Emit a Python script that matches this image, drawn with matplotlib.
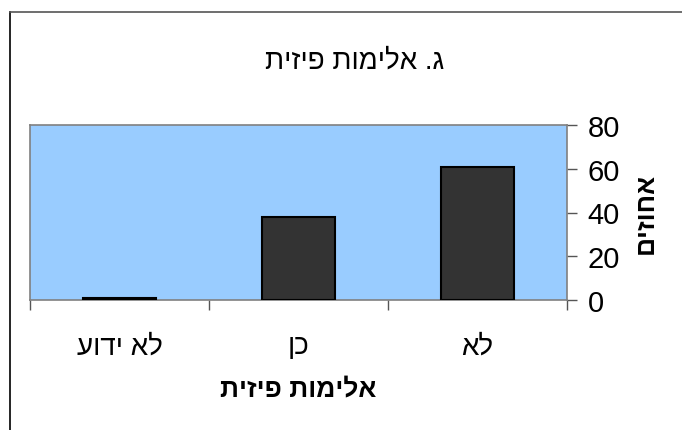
import matplotlib
matplotlib.use("Agg")
import matplotlib.pyplot as plt
from matplotlib.lines import Line2D

plt.rcParams["font.family"] = ["Liberation Sans", "DejaVu Sans"]

# data (logical Hebrew order, left-to-right on the chart)
categories = ["לא ידוע", "כן", "לא"]
values = [1, 38, 61]
y_ticks = [0, 20, 40, 60, 80]
title = "ג. אלימות פיזית"
x_label = "אלימות פיזית"
y_label = "אחוזים"


def rtl(text: str) -> str:
    # matplotlib has no bidi support, so lay Hebrew out visually
    return text[::-1]


W, H = 682, 431
fig = plt.figure(figsize=(W / 100, H / 100), dpi=100)

# outer chart border (only left and top edges fall inside the image)
fig.add_artist(Line2D([10 / W, 10 / W], [0, 1 - 13 / H], transform=fig.transFigure,
                      color="black", linewidth=1.2))
fig.add_artist(Line2D([10 / W, 1], [1 - 13 / H, 1 - 13 / H], transform=fig.transFigure,
                      color="#555555", linewidth=1.2))

left, right, top, bottom = 30, 567, 126, 301
ax = fig.add_axes([left / W, 1 - bottom / H, (right - left) / W, (bottom - top) / H])
ax.set_facecolor("#99CCFF")

x = range(len(categories))
ax.bar(x, values, width=0.41, color="#333333", edgecolor="black", linewidth=1.5, zorder=3)

ax.set_xlim(-0.5, len(categories) - 0.5)
ax.set_ylim(0, 80)

for side in ["left", "right", "top", "bottom"]:
    ax.spines[side].set_color("#808080")
    ax.spines[side].set_linewidth(1.2)

ax.yaxis.tick_right()
ax.yaxis.set_label_position("right")
ax.set_yticks(y_ticks)
ax.tick_params(axis="y", length=7, width=1, color="#555555", pad=8, labelsize=21)

ax.set_xticks(list(x))
ax.set_xticklabels([rtl(c) for c in categories])
ax.set_xticks([i - 0.5 for i in range(len(categories) + 1)], minor=True)
ax.tick_params(axis="x", which="major", length=0, pad=24, labelsize=20)
ax.tick_params(axis="x", which="minor", length=7, width=1, color="#555555")

ax.set_ylabel(rtl(y_label), fontsize=19, fontweight="bold", labelpad=10, rotation=90)
ax.set_xlabel(rtl(x_label), fontsize=19, fontweight="bold", labelpad=12)

fig.text(355 / W, 1 - 62 / H, rtl(title), fontsize=20, ha="center", va="center")

fig.savefig("out.png", dpi=100)
